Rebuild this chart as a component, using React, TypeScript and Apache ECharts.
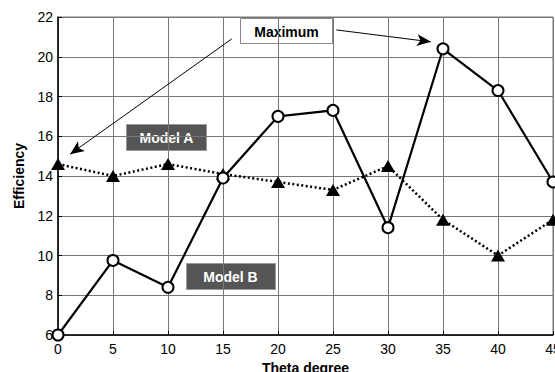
import React, { useEffect, useRef } from "react";
import * as echarts from "echarts";

const thetaDegrees = [0, 5, 10, 15, 20, 25, 30, 35, 40, 45];
const modelA = [14.6, 14.0, 14.6, 14.1, 13.7, 13.3, 14.5, 11.8, 10.0, 11.8];
const modelB = [6.0, 9.75, 8.4, 13.9, 17.0, 17.3, 11.4, 20.4, 18.3, 13.7];
const arrowAToModelA = [[15.8, 20.9], [1.1, 15.1]];
const arrowToMaximum = [[25.3, 21.35], [33.9, 20.75]];

export default function App() {
  const ref = useRef<HTMLDivElement>(null);
  useEffect(() => {
    const chart = echarts.init(ref.current!, null, { renderer: "svg" });
    const font = "'Liberation Sans', Arial, sans-serif";
    const arrowLine = (pts: number[][]) => ({
      silent: true,
      symbol: ["none", "arrow"],
      symbolSize: [9, 14],
      label: { show: false },
      lineStyle: { color: "#000", width: 1, type: "solid" },
      data: [[{ coord: pts[0] }, { coord: pts[1] }]],
    });
    chart.setOption({
      animation: false,
      backgroundColor: "#fff",
      grid: {
        left: 58, right: 2, top: 17, bottom: 37,
        outerBoundsMode: "none", containLabel: false,
        show: true, borderColor: "#777", borderWidth: 1,
      },
      xAxis: {
        type: "value",
        min: 0,
        max: 45,
        interval: 5,
        name: "Theta degree",
        nameLocation: "middle",
        nameGap: 25,
        nameTextStyle: { fontFamily: font, fontWeight: "bold", fontSize: 14, color: "#000" },
        axisLine: { show: true, lineStyle: { color: "#000", width: 1.5 } },
        axisTick: { show: true, inside: true, length: 4, lineStyle: { color: "#000" } },
        axisLabel: { fontFamily: font, fontSize: 14, color: "#000", margin: 7, showMaxLabel: true },
        splitLine: { show: true, lineStyle: { color: "#777", width: 1 } },
      },
      yAxis: {
        type: "value",
        min: 6,
        max: 22,
        interval: 2,
        name: "Efficiency",
        nameLocation: "middle",
        nameGap: 32,
        nameTextStyle: { fontFamily: font, fontWeight: "bold", fontSize: 14, color: "#000" },
        axisLine: { show: true, lineStyle: { color: "#000", width: 1.5 } },
        axisTick: { show: true, inside: true, length: 4, lineStyle: { color: "#000" } },
        axisLabel: { fontFamily: font, fontSize: 14, color: "#000", margin: 5 },
        splitLine: { show: true, lineStyle: { color: "#777", width: 1 } },
      },
      series: [
        {
          name: "Model A",
          type: "line",
          data: thetaDegrees.map((t, i) => [t, modelA[i]]),
          symbol: "triangle",
          symbolSize: [14, 12],
          itemStyle: { color: "#000" },
          lineStyle: { color: "#000", width: 2.5, type: [2, 2.5] },
          markLine: arrowLine(arrowAToModelA),
          z: 3,
        },
        {
          name: "Model B",
          type: "line",
          data: thetaDegrees.map((t, i) => [t, modelB[i]]),
          symbol: "circle",
          symbolSize: 11,
          showAllSymbol: true,
          itemStyle: { color: "#fff", borderColor: "#000", borderWidth: 2 },
          lineStyle: { color: "#000", width: 2.2 },
          markLine: arrowLine(arrowToMaximum),
          z: 4,
        },
      ],
      graphic: [
        {
          type: "group",
          left: 240,
          top: 18,
          children: [
            { type: "rect", shape: { x: 0, y: 0, width: 92, height: 25 }, style: { fill: "#fff", stroke: "#888", lineWidth: 1 } },
            { type: "text", x: 46, y: 13, style: { text: "Maximum", fill: "#000", font: `bold 14px ${font}`, align: "center", verticalAlign: "middle" } },
          ],
        },
        {
          type: "group",
          left: 126,
          top: 124,
          children: [
            { type: "rect", shape: { x: 0, y: 0, width: 80, height: 26 }, style: { fill: "#555", stroke: "#999", lineWidth: 1 } },
            { type: "text", x: 40, y: 13, style: { text: "Model A", fill: "#fff", font: `bold 14px ${font}`, align: "center", verticalAlign: "middle" } },
          ],
        },
        {
          type: "group",
          left: 186,
          top: 263,
          children: [
            { type: "rect", shape: { x: 0, y: 0, width: 89, height: 26 }, style: { fill: "#555", stroke: "#999", lineWidth: 1 } },
            { type: "text", x: 44, y: 13, style: { text: "Model B", fill: "#fff", font: `bold 14px ${font}`, align: "center", verticalAlign: "middle" } },
          ],
        },
      ],
    });
    return () => chart.dispose();
  }, []);
  return <div ref={ref} style={{ position: "fixed", left: 0, top: 0, width: 555, height: 372 }} />;
}
